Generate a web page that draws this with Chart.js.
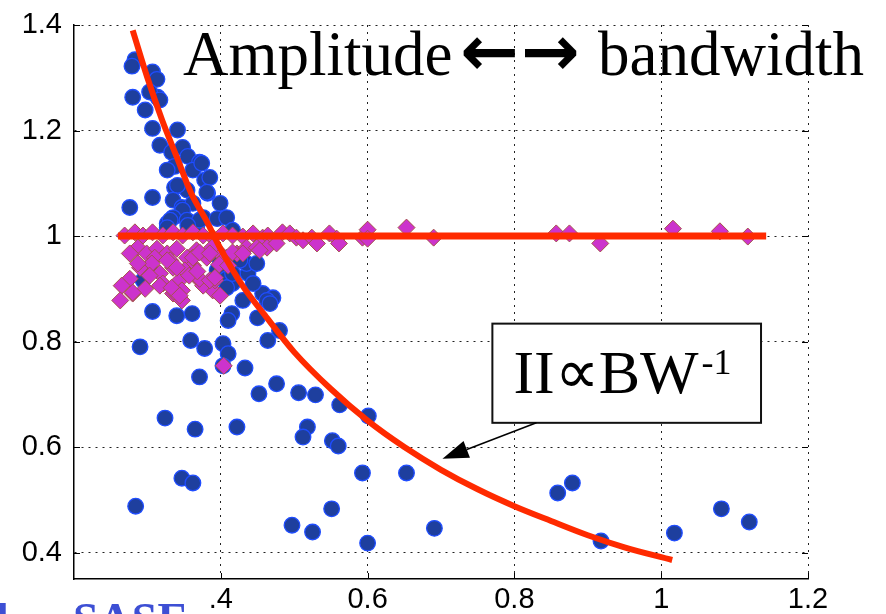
<!DOCTYPE html>
<html>
<head>
<meta charset="utf-8">
<script src="https://cdn.jsdelivr.net/npm/chart.js@4.4.1/dist/chart.umd.min.js"></script>
<style>
  html, body { margin: 0; padding: 0; background: #fff; }
  #wrap { width: 886px; height: 614px; position: relative; overflow: hidden; }
</style>
</head>
<body>
<div id="wrap"><canvas id="c" width="886" height="614"></canvas></div>
<script>
// Measured amplitude vs bandwidth (blue circles)
const blueX = [0.283,0.279,0.307,0.313,0.314,0.280,0.303,0.317,0.297,0.307,0.341,0.317,0.333,0.348,0.355,0.371,0.337,0.327,0.362,0.374,
  0.378,0.337,0.354,0.341,0.382,0.385,0.381,0.307,0.276,0.335,0.347,0.362,0.399,0.348,0.335,0.354,0.376,0.395,0.327,0.408,
  0.367,0.416,0.371,0.331,0.327,0.355,0.442,0.437,0.395,0.408,0.416,0.457,0.471,0.294,0.435,0.449,0.426,0.399,0.389,0.408,
  0.416,0.444,0.430,0.463,0.450,0.415,0.467,0.480,0.464,0.307,0.340,0.361,0.410,0.290,0.359,0.378,0.403,0.410,0.403,0.433,
  0.371,0.324,0.365,0.422,0.347,0.362,0.284,0.497,0.476,0.452,0.506,0.529,0.562,0.601,0.518,0.512,0.552,0.560,0.593,0.653,
  0.551,0.525,0.600,0.691,0.859,0.879,0.918,1.018,1.082,1.120,0.303];
const blueY = [1.334,1.322,1.311,1.297,1.263,1.263,1.273,1.258,1.239,1.204,1.201,1.172,1.159,1.168,1.151,1.140,1.132,1.125,1.125,1.138,
  1.106,1.092,1.087,1.096,1.081,1.111,1.083,1.073,1.054,1.068,1.054,1.062,1.062,1.049,1.035,1.030,1.035,1.033,1.024,1.035,
  1.016,1.011,1.030,1.030,1.016,1.020,0.944,0.929,0.935,0.919,0.910,0.891,0.883,0.916,0.948,0.948,0.954,0.954,0.916,0.902,
  0.929,0.910,0.878,0.878,0.845,0.853,0.872,0.821,0.802,0.857,0.849,0.853,0.840,0.790,0.802,0.787,0.796,0.777,0.754,0.750,
  0.733,0.655,0.634,0.638,0.541,0.532,0.488,0.452,0.720,0.701,0.703,0.699,0.680,0.659,0.638,0.619,0.612,0.602,0.551,0.551,
  0.483,0.439,0.418,0.446,0.513,0.532,0.422,0.437,0.483,0.458,0.938];

// Normalised amplitude (magenta diamonds)
const magX = [0.269,0.283,0.294,0.307,0.321,0.335,0.348,0.362,0.376,0.389,0.403,0.416,0.430,0.444,0.457,0.464,0.484,0.494,0.503,0.512,
  0.524,0.531,0.548,0.558,0.561,0.593,0.600,0.600,0.653,0.690,0.857,0.875,0.917,1.016,1.080,1.118,
  0.287,0.299,0.313,0.327,0.340,0.354,0.367,0.381,0.395,0.408,0.422,0.435,0.449,0.463,0.476,0.388,0.403,0.416,0.430,0.453,
  0.310,0.290,0.306,0.331,0.276,0.317,0.335,0.344,0.371,0.389,0.399,0.265,0.280,0.297,0.321,0.335,0.347,0.317,0.337,0.347,
  0.376,0.392,0.404,0.362,0.351,
  0.287,0.327,0.340,0.333,0.344,0.280,0.263,0.371,0.385,0.392,0.362,0.371,0.385,0.276,0.303,0.357,0.368,0.398,0.410];
const magY = [1.001,1.007,1.001,1.007,1.001,1.007,1.001,1.007,1.001,0.997,1.005,1.001,0.999,1.005,0.997,1.001,1.007,1.005,0.997,0.992,
  0.997,0.986,1.005,0.995,0.986,0.997,1.012,0.995,1.016,0.997,1.005,1.005,0.986,1.014,1.009,0.999,
  0.978,0.967,0.976,0.967,0.976,0.959,0.973,0.959,0.973,0.959,0.967,0.978,0.978,0.978,0.986,0.978,0.954,0.969,0.967,0.973,
  0.959,0.940,0.948,0.954,0.919,0.929,0.940,0.916,0.916,0.897,0.887,0.906,0.891,0.900,0.910,0.891,0.897,0.906,0.893,0.878,
  0.906,0.916,0.754,0.944,0.935,
  0.948,0.954,0.940,0.902,0.887,0.893,0.878,0.919,0.916,0.921,0.959,0.969,0.967,0.967,0.925,0.925,0.933,0.946,0.944];

// Reference level at 1
const levelX = [0.26, 1.143];
const levelY = [1.0, 1.0];

// Inverse-bandwidth curve, read along the drawn fit
const curveX = [0.28,0.30,0.32,0.34,0.36,0.38,0.40,0.43,0.46,0.50,0.55,0.60,0.65,0.70,0.75,0.80,0.85,0.90,0.95,1.015];
const curveY = [1.39,1.30,1.22,1.15,1.08,1.03,0.975,0.905,0.85,0.78,0.71,0.65,0.60,0.557,0.52,0.488,0.46,0.433,0.41,0.386];

// Axis ticks
const xTicks = [0.4, 0.6, 0.8, 1.0, 1.2];
const xTickLabels = ['.4', '0.6', '0.8', '1', '1.2'];
const yTicks = [0.4, 0.6, 0.8, 1.0, 1.2, 1.4];
const yTickLabels = ['0.4', '0.6', '0.8', '1', '1.2', '1.4'];

const pts = (xs, ys) => xs.map((x, i) => ({ x: x, y: ys[i] }));

const RED = '#ff2a00';
const SERIF = '"Liberation Serif", "Times New Roman", serif';
const SANS = '"Liberation Sans", Arial, Helvetica, sans-serif';

// Inner tick marks, annotation box, arrow, heading and footer text
const decorations = {
  id: 'decorations',
  afterDatasetsDraw(chart) {
    const ctx = chart.ctx;
    const xs = chart.scales.x, ys = chart.scales.y;
    const a = chart.chartArea;
    ctx.save();

    // inner tick marks
    ctx.strokeStyle = '#000';
    ctx.lineWidth = 1;
    xTicks.forEach(v => {
      const px = Math.round(xs.getPixelForValue(v)) + 0.5;
      ctx.beginPath(); ctx.moveTo(px, a.bottom); ctx.lineTo(px, a.bottom - 6); ctx.stroke();
    });
    yTicks.forEach(v => {
      const py = Math.round(ys.getPixelForValue(v)) + 0.5;
      ctx.beginPath(); ctx.moveTo(a.left, py); ctx.lineTo(a.left + 6, py); ctx.stroke();
      ctx.beginPath(); ctx.moveTo(a.right, py); ctx.lineTo(a.right - 6, py); ctx.stroke();
    });

    // heading
    ctx.fillStyle = '#000';
    ctx.textBaseline = 'alphabetic';
    ctx.textAlign = 'left';
    ctx.font = '63px ' + SERIF;
    ctx.fillText('Amplitude', a.left + 109, 75);
    ctx.font = 'bold 70px "DejaVu Sans", sans-serif';
    ctx.fillText('\u2190', a.left + 386, 75);
    ctx.fillText('\u2192', a.left + 447, 75);
    ctx.font = '63px ' + SERIF;
    ctx.fillText('bandwidth', a.left + 524, 75);

    // annotation box
    const bx0 = xs.getPixelForValue(0.770), bx1 = xs.getPixelForValue(1.136);
    const by0 = ys.getPixelForValue(0.834), by1 = ys.getPixelForValue(0.646);
    ctx.fillStyle = '#fff';
    ctx.fillRect(bx0, by0, bx1 - bx0, by1 - by0);
    ctx.strokeStyle = '#111';
    ctx.lineWidth = 2;
    ctx.strokeRect(bx0, by0, bx1 - bx0, by1 - by0);
    ctx.fillStyle = '#000';
    ctx.font = '62px ' + SERIF;
    const base = by1 - 30;
    const main = 'II\u221DBW';
    ctx.fillText(main, bx0 + 21, base);
    const w = ctx.measureText(main).width;
    ctx.font = '36px ' + SERIF;
    ctx.fillText('-1', bx0 + 21 + w + 3, base - 19);

    // arrow from the box to the curve
    const sx = xs.getPixelForValue(0.830), sy = ys.getPixelForValue(0.646);
    const tx = xs.getPixelForValue(0.702), ty = ys.getPixelForValue(0.578);
    const ang = Math.atan2(ty - sy, tx - sx);
    const hl = 26, hw = 9;
    const hx = tx - hl * Math.cos(ang), hy = ty - hl * Math.sin(ang);
    ctx.strokeStyle = '#000';
    ctx.lineWidth = 1.5;
    ctx.beginPath(); ctx.moveTo(sx, sy); ctx.lineTo(hx, hy); ctx.stroke();
    ctx.beginPath();
    ctx.moveTo(tx, ty);
    ctx.lineTo(hx + hw * Math.sin(ang), hy - hw * Math.cos(ang));
    ctx.lineTo(hx - hw * Math.sin(ang), hy + hw * Math.cos(ang));
    ctx.closePath();
    ctx.fillStyle = '#000';
    ctx.fill();

    // footer text, running off the bottom edge
    ctx.fillStyle = '#3d4fd4';
    ctx.font = 'bold 46px ' + SERIF;
    ctx.fillText('l', -4, 635);
    ctx.fillText('SASE', 73, 635);

    ctx.restore();
  }
};

new Chart(document.getElementById('c'), {
  type: 'scatter',
  plugins: [decorations],
  data: {
    datasets: [
      {
        label: 'fit',
        type: 'line',
        data: pts(curveX, curveY),
        borderColor: RED,
        borderWidth: 6,
        pointRadius: 0,
        fill: false,
        cubicInterpolationMode: 'monotone',
        order: 0,
        clip: false
      },
      {
        label: 'level',
        type: 'line',
        data: pts(levelX, levelY),
        borderColor: RED,
        borderWidth: 7,
        pointRadius: 0,
        fill: false,
        order: 0
      },
      {
        label: 'normalised',
        data: pts(magX, magY),
        pointStyle: 'rectRot',
        pointRadius: 8.5,
        backgroundColor: '#cc33cc',
        borderColor: '#a5524a',
        borderWidth: 1,
        order: 1
      },
      {
        label: 'measured',
        data: pts(blueX, blueY),
        pointStyle: 'circle',
        pointRadius: 7.8,
        backgroundColor: '#1e3f9e',
        borderColor: '#1f4dff',
        borderWidth: 1.3,
        order: 2
      }
    ]
  },
  options: {
    responsive: false,
    animation: false,
    events: [],
    layout: { padding: { left: 0, right: 78, top: 25, bottom: 0 } },
    plugins: { legend: { display: false }, tooltip: { enabled: false }, title: { display: false } },
    scales: {
      x: {
        type: 'linear',
        min: 0.2,
        max: 1.2,
        afterBuildTicks: s => { s.ticks = xTicks.map(v => ({ value: v })); },
        afterFit: s => { s.height = 35; },
        ticks: {
          padding: 4,
          color: '#000',
          font: { family: SANS, size: 29 },
          maxRotation: 0,
          autoSkip: false,
          callback: (v, i) => xTickLabels[i]
        },
        grid: {
          color: '#222',
          lineWidth: 1,
          drawTicks: false
        },
        border: { display: true, color: '#000', width: 1.5, dash: [2, 5] }
      },
      y: {
        type: 'linear',
        min: 0.35,
        max: 1.4,
        afterBuildTicks: s => { s.ticks = yTicks.map(v => ({ value: v })); },
        afterFit: s => { s.width = 74; },
        ticks: {
          padding: 12,
          color: '#000',
          font: { family: SANS, size: 29, lineHeight: 0.8 },
          autoSkip: false,
          callback: (v, i) => yTickLabels[i]
        },
        grid: {
          color: '#222',
          lineWidth: 1,
          drawTicks: false
        },
        border: { display: true, color: '#000', width: 1.5, dash: [2, 5] }
      }
    }
  }
});
</script>
</body>
</html>
